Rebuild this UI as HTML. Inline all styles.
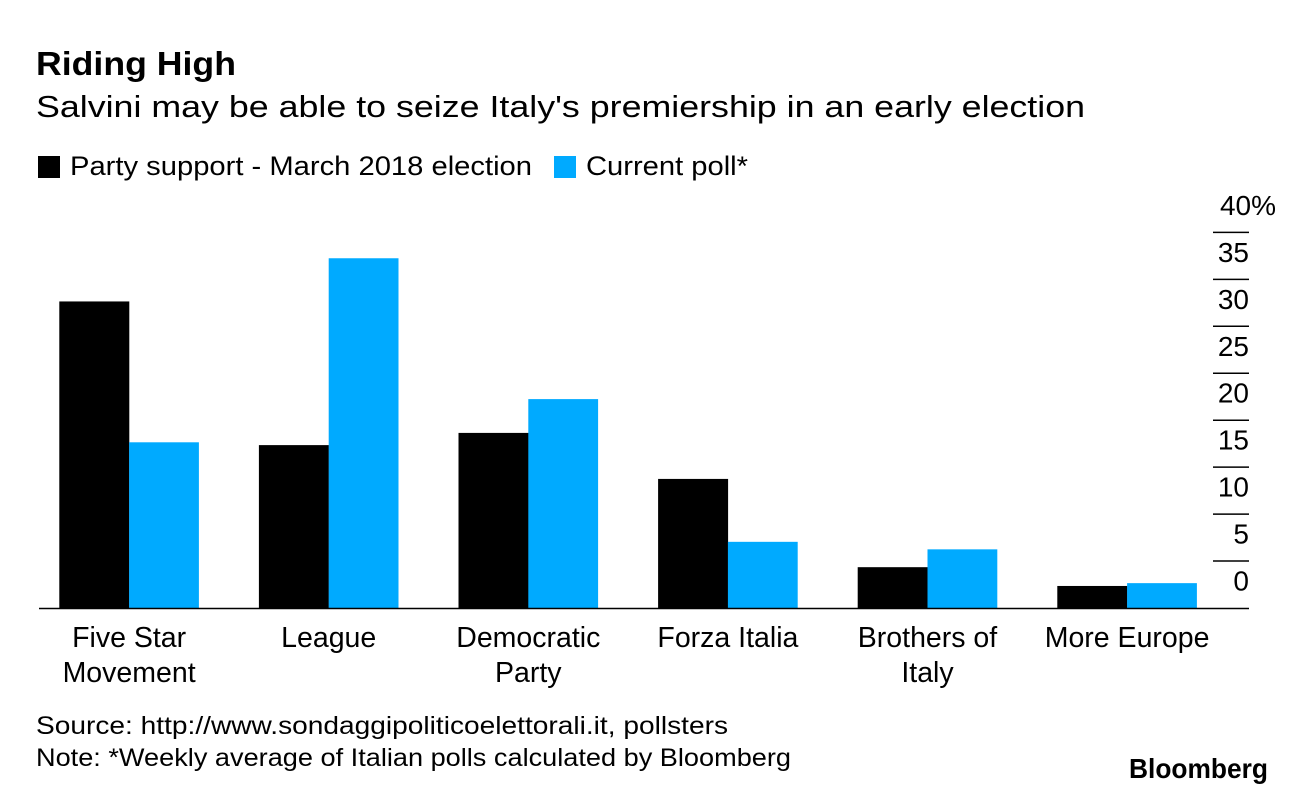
<!DOCTYPE html>
<html><head><meta charset="utf-8"><style>
body{margin:0;background:#fff;width:1296px;height:786px;overflow:hidden;font-family:"Liberation Sans",Arial,sans-serif;color:#000}
svg text{font-family:"Liberation Sans",Arial,sans-serif}
</style></head><body>
<svg width="1296" height="786">
<text x="36" y="75" font-size="33" font-weight="bold" textLength="200" lengthAdjust="spacingAndGlyphs">Riding High</text>
<text x="36" y="117" font-size="31" textLength="1049" lengthAdjust="spacingAndGlyphs">Salvini may be able to seize Italy's premiership in an early election</text>
<g>
<rect x="38" y="156" width="22" height="22" fill="#000"/>
<text x="70" y="175" font-size="27" textLength="462" lengthAdjust="spacingAndGlyphs">Party support - March 2018 election</text>
<rect x="554" y="156" width="22" height="22" fill="#00aaff"/>
<text x="586" y="175" font-size="27" textLength="162" lengthAdjust="spacingAndGlyphs">Current poll*</text>
</g>
<g id="plot"></g>
<text x="36" y="734" font-size="25" textLength="692" lengthAdjust="spacingAndGlyphs">Source: http://www.sondaggipoliticoelettorali.it, pollsters</text>
<text x="36" y="766" font-size="25" textLength="755" lengthAdjust="spacingAndGlyphs">Note: *Weekly average of Italian polls calculated by Bloomberg</text>
<text x="1129" y="778" font-size="28" font-weight="bold" textLength="139" lengthAdjust="spacingAndGlyphs">Bloomberg</text>
</svg>
<script>
const categories=[["Five Star","Movement"],["League"],["Democratic","Party"],["Forza Italia"],["Brothers of","Italy"],["More Europe"]];
const election2018=[32.7,17.4,18.7,13.8,4.4,2.4];
const currentPoll=[17.7,37.3,22.3,7.1,6.3,2.7];
const ticks=[0,5,10,15,20,25,30,35,40];
const NS="http://www.w3.org/2000/svg";
const g=document.getElementById('plot');
const y0=608.5,pxPer=9.39;
const y=v=>y0-v*pxPer;
const x=i=>59.3+i*199.6;
function mk(t,a){const e=document.createElementNS(NS,t);for(const k in a)e.setAttribute(k,a[k]);g.appendChild(e);return e;}
election2018.forEach((v,i)=>{const r=mk('rect',{x:x(i),y:y(v),width:70,height:y0-y(v),fill:'#000'});

});
currentPoll.forEach((v,i)=>{const r=mk('rect',{x:x(i)+69.8,y:y(v),width:69.8,height:y0-y(v),fill:'#00aaff'});

});
const base=mk('line',{x1:39,x2:1249,y1:y0,y2:y0,stroke:'#000','stroke-width':1.5});


ticks.forEach(t=>{
 if(t>0){const l=mk('line',{x1:1213,x2:1249,y1:y(t)-0.5,y2:y(t)-0.5,stroke:'#000','stroke-width':1.5});
 
 }
 const tx=mk('text',{x:t==40?1276:1249,y:y(t)-18,'font-size':28,'text-anchor':'end'});
 tx.textContent=t==40?'40%':String(t);
 
 
});
categories.forEach((c,i)=>{c.forEach((s,j)=>{const tx=mk('text',{x:x(i)+69.8,y:647+j*35,'font-size':28.5,'text-anchor':'middle'});
 tx.textContent=s;
 
 });});
</script>
</body></html>
